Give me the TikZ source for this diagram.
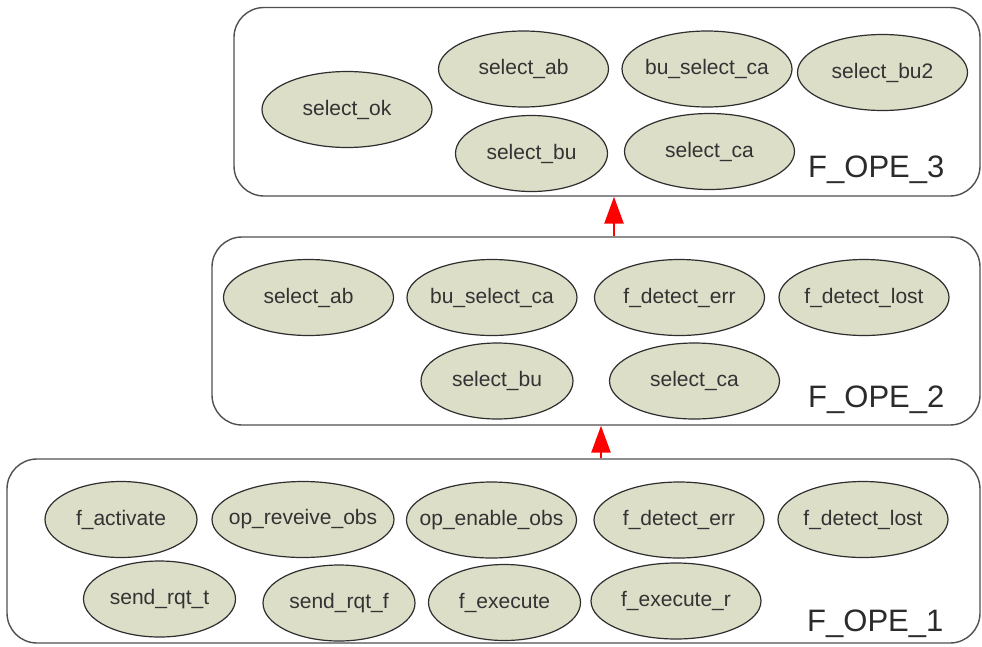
\documentclass[tikz,border=0pt]{standalone}
\usepackage{fontspec}
\setmainfont{Liberation Sans}
\usetikzlibrary{shapes.geometric,arrows.meta}
\definecolor{ellfill}{HTML}{DCDEC8}
\definecolor{ellline}{HTML}{2E2E2E}
\definecolor{ink}{HTML}{333333}
\definecolor{boxline}{HTML}{505050}
\newcommand\elltext[1]{\makebox[0pt]{#1}}
\tikzset{
  layer/.style={draw=boxline, line width=1.4pt, rounded corners=30pt, fill=white, inner sep=0pt},
  func/.style={ellipse, draw=ellline, line width=1.2pt, fill=ellfill, inner sep=0pt,
    minimum width=170pt, minimum height=76pt, text=ink, font=\fontsize{21}{25}\selectfont},
  narrow/.style={minimum width=152pt},
  wide/.style={minimum width=182pt},
  tag/.style={anchor=base west, inner sep=0pt, text=ink!85!black, font=\fontsize{31}{36}\selectfont},
  uparrow/.style={draw=red, line width=2.6pt, -{Triangle[width=19pt,length=27pt]}}
}
\begin{document}
\begin{tikzpicture}[x=1pt,y=-1pt]
\useasboundingbox (0,0) rectangle (982,646);

% layer frames
\node[layer, minimum width=746pt, minimum height=188.5pt] (ope3) at (607,101.75) {};
\node[layer, minimum width=768pt, minimum height=188pt] (ope2) at (596,331) {};
\node[layer, minimum width=973pt, minimum height=184pt] (ope1) at (493.5,551) {};

% layer F_OPE_3
\node[func] (t_ok) at (347,109.5) {\elltext{select\_ok}};
\node[func] (t_ab) at (523.5,69) {\elltext{select\_ab}};
\node[func] (t_buca) at (707,69) {\elltext{bu\_select\_ca}};
\node[func] (t_bu2) at (882.5,72.5) {\elltext{select\_bu2}};
\node[func, narrow] (t_bu) at (531.5,153.5) {\elltext{select\_bu}};
\node[func] (t_ca) at (709.5,151.5) {\elltext{select\_ca}};
\node[tag] (l3) at (808,177) {F\_OPE\_3};

% layer F_OPE_2
\node[func] (m_ab) at (308.5,297.5) {\elltext{select\_ab}};
\node[func] (m_buca) at (492,297.5) {\elltext{bu\_select\_ca}};
\node[func] (m_err) at (679.5,297.5) {\elltext{f\_detect\_err}};
\node[func] (m_lost) at (864,297.5) {\elltext{f\_detect\_lost}};
\node[func, narrow] (m_bu) at (497,381) {\elltext{select\_bu}};
\node[func] (m_ca) at (694.5,381) {\elltext{select\_ca}};
\node[tag] (l2) at (808,407) {F\_OPE\_2};

% layer F_OPE_1
\node[func, narrow] (b_act) at (121,519.5) {\elltext{f\_activate}};
\node[func, wide] (b_recv) at (303,519.5) {\elltext{op\_reveive\_obs}};
\node[func] (b_enab) at (491.5,520) {\elltext{op\_enable\_obs}};
\node[func] (b_err) at (679,520) {\elltext{f\_detect\_err}};
\node[func] (b_lost) at (863,519.5) {\elltext{f\_detect\_lost}};
\node[func, narrow] (b_rqtt) at (159.5,599) {\elltext{send\_rqt\_t}};
\node[func, narrow] (b_rqtf) at (339,603) {\elltext{send\_rqt\_f}};
\node[func, narrow] (b_exe) at (504.5,602.5) {\elltext{f\_execute}};
\node[func] (b_exer) at (676,601) {\elltext{f\_execute\_r}};
\node[tag] (l1) at (807,631) {F\_OPE\_1};

% refinement arrows between layers
\coordinate (upper) at (614,0);
\coordinate (lower) at (601,0);
\draw[uparrow] (ope2.north -| upper) -- (ope3.south -| upper);
\draw[uparrow] (ope1.north -| lower) -- (ope2.south -| lower);
\end{tikzpicture}
\end{document}
